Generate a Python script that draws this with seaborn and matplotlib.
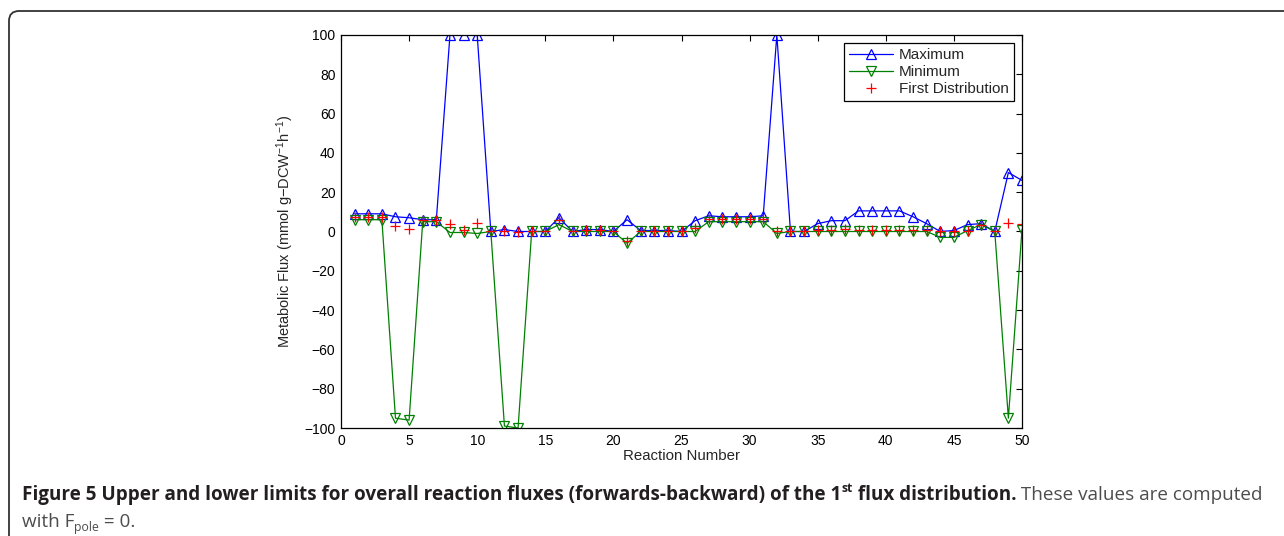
import numpy as np
import pandas as pd
import matplotlib
matplotlib.use("Agg")
import matplotlib.pyplot as plt
import matplotlib.patches as mpatches
from matplotlib.transforms import IdentityTransform
import seaborn as sns

# Flux bounds per reaction (mmol g-DCW^-1 h^-1)
reactions = list(range(1, 51))
flux_max = [9, 9, 9, 7.5, 7, 6, 6, 100, 100, 100,
            0, 1, 0, 0, 0, 7, 0, 1, 1, 0,
            6, 0.5, 0.5, 0.5, 0, 5.5, 8, 7.5, 7.5, 7.5,
            8, 100, 0, 0, 4, 5.5, 5.5, 10.5, 10.5, 10.5,
            10.5, 7.5, 4, 0, 0.5, 3.5, 4, 0, 30, 26]
flux_min = [6, 6, 6, -95, -96, 5, 5, -0.5, -0.5, -1,
            0, -99, -100, 0, 0, 3.5, 0, 0, 0, 0,
            -6, 0, 0, 0, 0, 0, 5, 5, 5, 5,
            5, -1, 0, 0, 0, 0, 0, 0, 0, 0,
            0, 0, 0, -3, -3, 0.5, 3.5, 0, -95, 1]
flux_first = [7.5, 7.5, 7.5, 3, 1.5, 6, 6, 4, 1, 4.5,
              0, 0.5, -0.5, 0, 0, 6, 0, 1, 1, 0,
              -5, 0, 0, 0, 0, 2, 6.5, 6.5, 6.5, 6.5,
              6.5, 0, 0, 0, 1, 1, 1.5, 1, 1, 1,
              1, 1, 1, 0, 0, 0.5, 3.5, 0, 4.5, 4]

x_ticks = list(range(0, 51, 5))
y_ticks = list(range(-100, 101, 20))

df = pd.DataFrame({"reaction": reactions, "max": flux_max,
                   "min": flux_min, "first": flux_first})

sns.set_style("white")
plt.rcParams["font.family"] = ["Liberation Sans", "DejaVu Sans"]
plt.rcParams["mathtext.fontset"] = "custom"
plt.rcParams["mathtext.rm"] = "Liberation Sans"
plt.rcParams["mathtext.it"] = "Liberation Sans:italic"
plt.rcParams["mathtext.bf"] = "Liberation Sans:bold"

W, H = 1284, 536
fig = plt.figure(figsize=(W / 100, H / 100), dpi=100)
fig.patch.set_facecolor("white")
ax = fig.add_axes([341 / W, 1 - 428 / H, (1022 - 341) / W, (428 - 35) / H])

blue = (0, 0, 1)
green = (0, 0.5, 0)
red = (1, 0, 0)

sns.lineplot(data=df, x="reaction", y="max", ax=ax, color=blue, lw=0.9,
             marker="^", markersize=7, markerfacecolor="none",
             markeredgecolor=blue, markeredgewidth=0.9, label="Maximum")
sns.lineplot(data=df, x="reaction", y="min", ax=ax, color=green, lw=0.9,
             marker="v", markersize=7, markerfacecolor="none",
             markeredgecolor=green, markeredgewidth=0.9, label="Minimum")
sns.lineplot(data=df, x="reaction", y="first", ax=ax, color=red,
             linestyle="none", marker="+", markersize=7,
             markeredgecolor=red, markeredgewidth=0.9,
             label="First Distribution")

ax.set_xlim(0, 50)
ax.set_ylim(-100, 100)
ax.set_xticks(x_ticks)
ax.set_yticks(y_ticks)
ax.tick_params(direction="in", length=4, width=0.8, top=True, right=True,
               labelsize=10, pad=4, colors="black")
for sp in ax.spines.values():
    sp.set_visible(True)
    sp.set_color("black")
    sp.set_linewidth(0.9)
ax.set_xlabel("Reaction Number", fontsize=10.8, labelpad=1)
ax.set_ylabel("Metabolic Flux (mmol g\u2212DCW$^{\u22121}$h$^{\u22121}$)",
              fontsize=10.5, labelpad=6)

leg = ax.legend(loc="upper right", fontsize=11, frameon=True, fancybox=False,
                framealpha=1, edgecolor="black", handlelength=2.9,
                borderpad=0.3, labelspacing=0.2, handletextpad=0.4,
                borderaxespad=0.55)
leg.get_frame().set_linewidth(0.9)

# Rounded frame around the figure panel
frame = mpatches.FancyBboxPatch((9, -40), W + 40, (H - 11) + 40,
                                boxstyle="round,pad=0,rounding_size=10",
                                transform=IdentityTransform(),
                                facecolor="none", edgecolor="#333333",
                                linewidth=1.3)
fig.patches.append(frame)

# Caption
cap_font = "Open Sans"
renderer = fig.canvas.get_renderer()


def write_line(x, y, segments):
    for text, weight, size, dy, color in segments:
        t = fig.text(x / W, 1 - (y - dy) / H, text, fontsize=size,
                     fontweight=weight, color=color, family=cap_font,
                     ha="left", va="baseline")
        x += t.get_window_extent(renderer).width
    return x


bold_c = "#231f20"
norm_c = "#4d4d4d"
fs = 13.6
small = fs * 0.65
write_line(22, 500, [
    ("Figure 5 Upper and lower limits for overall reaction fluxes "
     "(forwards-backward) of the 1", "bold", fs, 0, bold_c),
    ("st", "bold", small, 8, bold_c),
    (" flux distribution.", "bold", fs, 0, bold_c),
    (" These values are computed", "normal", fs, 0, norm_c),
])
write_line(22, 527, [
    ("with F", "normal", fs, 0, norm_c),
    ("pole", "normal", small, -4, norm_c),
    (" = 0.", "normal", fs, 0, norm_c),
])

fig.savefig("out.png", dpi=100, facecolor="white")
